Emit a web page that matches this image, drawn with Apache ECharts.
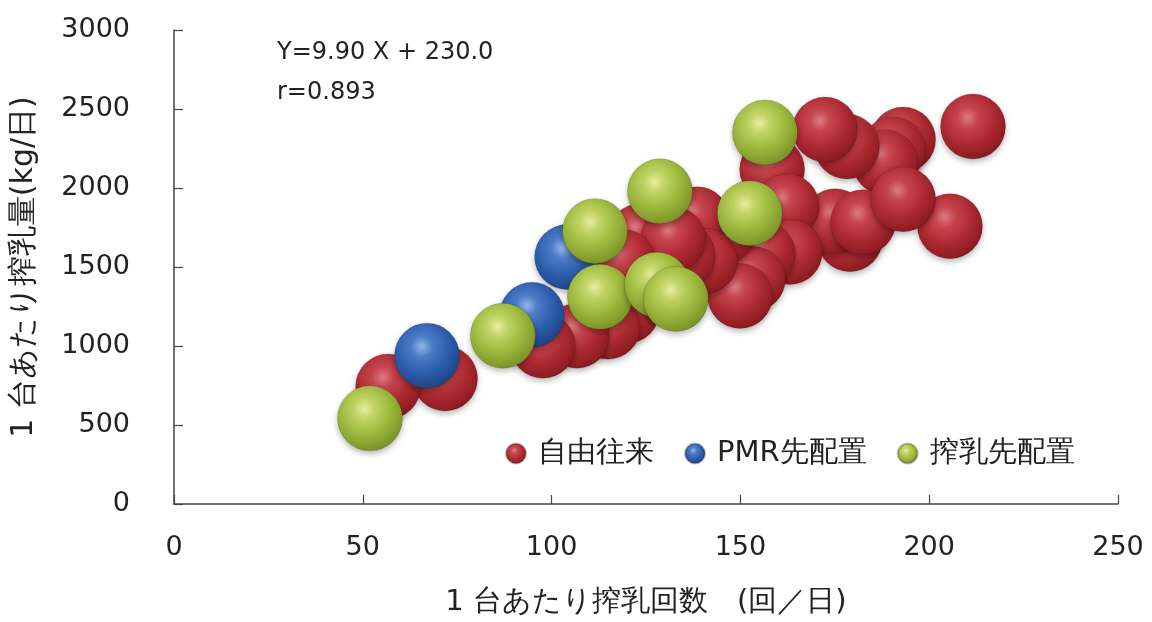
<!DOCTYPE html>
<html>
<head>
<meta charset="utf-8">
<script src="https://cdn.jsdelivr.net/npm/echarts@6/dist/echarts.min.js"></script>
<style>
  html, body { margin: 0; padding: 0; background: #fff; }
  #chart { width: 1152px; height: 622px; }
</style>
</head>
<body>
<div id="chart"></div>
<script>
// Milking robot performance: milkings per unit per day vs. milk yield per unit per day
const seriesNames = ['自由往来', 'PMR先配置', '搾乳先配置'];

// 自由往来 (free traffic)
const freeX = [211.6, 205.5, 193.1, 190.4, 188.3, 178.2, 172.4, 179.0, 175.1, 182.5, 193.1,
               158.4, 162.3, 163.1, 156.0, 153.3, 149.9, 145.4, 138.5, 140.6, 134.8,
               123.4, 132.2, 118.9, 120.0, 114.9, 106.7, 97.7, 71.8, 56.7];
const freeY = [2389, 1758, 2307, 2244, 2162, 2263, 2370, 1676, 1790, 1784, 1929,
               2118, 1884, 1595, 1582, 1424, 1317, 1721, 1803, 1538, 1569,
               1695, 1676, 1532, 1223, 1122, 1065, 1002, 794, 744];

// PMR先配置 (feed-first)
const pmrX = [104.1, 94.8, 67.0];
const pmrY = [1563, 1197, 939];

// 搾乳先配置 (milking-first)
const milkX = [51.9, 87.1, 111.5, 112.8, 128.7, 127.9, 132.9, 152.5, 156.5];
const milkY = [542, 1065, 1727, 1311, 1979, 1387, 1298, 1840, 2351];

const xTicks = { min: 0, max: 250, interval: 50 };
const yTicks = { min: 0, max: 3000, interval: 500 };

const equationText = 'Y=9.90 X + 230.0';
const rText = 'r=0.893';

const latinFont = 'DejaVu Sans';

function pairs(xs, ys) { return xs.map((x, i) => [x, ys[i]]); }

// Shaded ball look: soft highlight upper-left, darker towards the rim
function sphere(light, mid, base, dark, edge) {
  return {
    type: 'radial', x: 0.42, y: 0.36, r: 0.72,
    colorStops: [
      { offset: 0, color: light },
      { offset: 0.22, color: mid },
      { offset: 0.56, color: base },
      { offset: 0.88, color: dark },
      { offset: 1, color: edge }
    ]
  };
}

const palette = [
  sphere('#dc7c83', '#c6454e', '#ad2a32', '#8c1b21', '#6c1317'),
  sphere('#93b8e6', '#4c7dc6', '#2c5eac', '#1f4688', '#152f60'),
  sphere('#e8eea0', '#c0d364', '#9bb63c', '#7b9529', '#5c7119')
];

const chart = echarts.init(document.getElementById('chart'), null, { renderer: 'canvas' });

const seriesData = [pairs(freeX, freeY), pairs(pmrX, pmrY), pairs(milkX, milkY)];

chart.setOption({
  backgroundColor: '#ffffff',
  animation: false,
  textStyle: { fontFamily: latinFont, color: '#222' },
  grid: { left: 174, right: 34, top: 30, bottom: 116, containLabel: false },
  xAxis: {
    type: 'value',
    min: xTicks.min, max: xTicks.max, interval: xTicks.interval,
    name: '1 台あたり搾乳回数　(回／日)',
    nameLocation: 'middle',
    nameGap: 84,
    nameTextStyle: { fontSize: 29, color: '#222', fontFamily: latinFont },
    axisLine: { show: true, lineStyle: { color: '#444', width: 1.5 } },
    axisTick: { show: true, inside: true, length: 9, lineStyle: { color: '#444', width: 1.2 } },
    axisLabel: { fontSize: 27, color: '#222', margin: 30, fontFamily: latinFont,
                 formatter: v => String(v) },
    splitLine: { show: false }
  },
  yAxis: {
    type: 'value',
    min: yTicks.min, max: yTicks.max, interval: yTicks.interval,
    name: '1 台あたり搾乳量(kg/日)',
    nameLocation: 'middle',
    nameGap: 135,
    nameRotate: 90,
    nameTextStyle: { fontSize: 30, color: '#222', fontFamily: latinFont },
    axisLine: { show: true, lineStyle: { color: '#444', width: 1.5 } },
    axisTick: { show: true, inside: true, length: 9, lineStyle: { color: '#444', width: 1.2 } },
    axisLabel: { fontSize: 27, color: '#222', margin: 44, fontFamily: latinFont,
                 formatter: v => String(v) },
    splitLine: { show: false }
  },
  legend: {
    left: 500, top: 434,
    itemWidth: 20, itemHeight: 20,
    itemGap: 30,
    icon: 'circle',
    textStyle: { fontSize: 29, color: '#222', fontFamily: latinFont, padding: [0, 0, 0, 7] },
    data: seriesNames
  },
  graphic: [
    {
      type: 'text', left: 277, top: 41,
      style: { text: equationText, fontSize: 24, fontFamily: latinFont, fill: '#222' }
    },
    {
      type: 'text', left: 277, top: 81,
      style: { text: rText, fontSize: 24, fontFamily: latinFont, fill: '#222' }
    }
  ],
  series: seriesNames.map((name, i) => ({
    name: name,
    type: 'scatter',
    data: seriesData[i],
    symbol: 'circle',
    symbolSize: 65,
    z: 2 + i,
    itemStyle: {
      color: palette[i],
      opacity: 1,
      borderColor: 'rgba(40,10,10,0.25)',
      borderWidth: 0.6,
      shadowColor: 'rgba(0,0,0,0.28)',
      shadowBlur: 6,
      shadowOffsetY: 3
    },
    emphasis: { disabled: true }
  }))
});
</script>
</body>
</html>
